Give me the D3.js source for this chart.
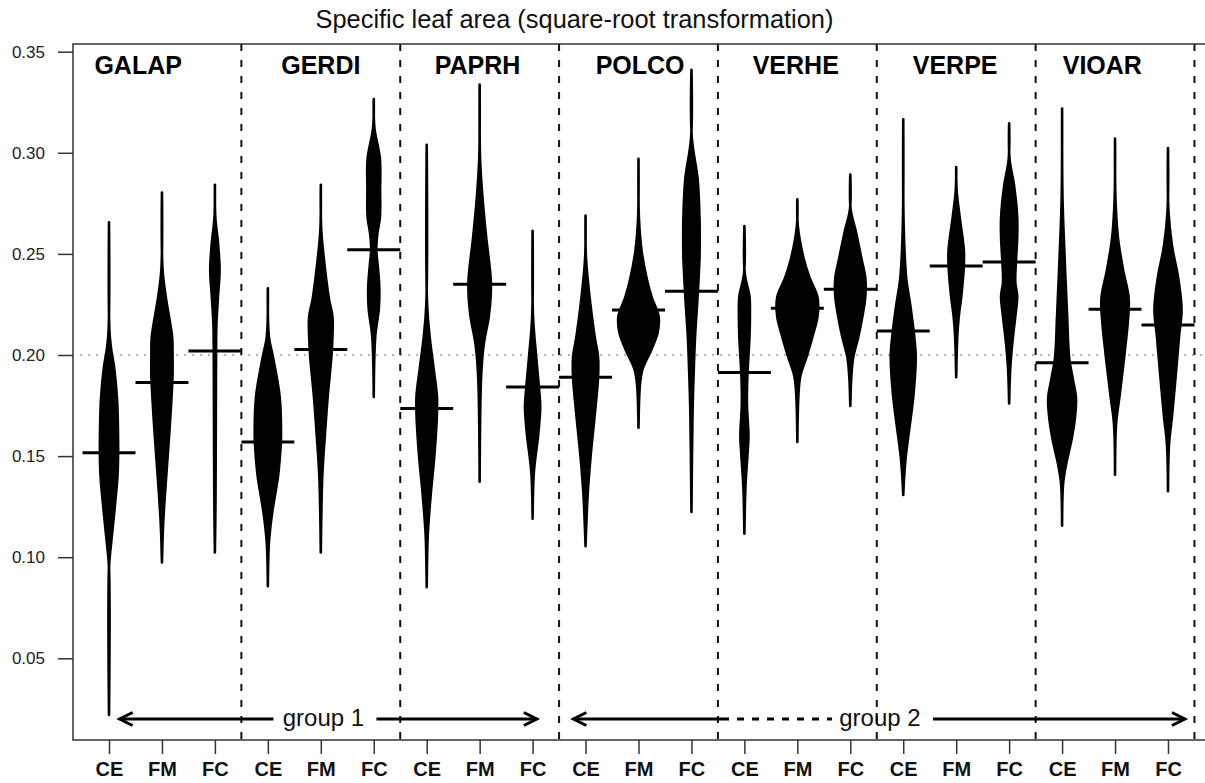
<!DOCTYPE html>
<html>
<head>
<meta charset="utf-8">
<script src="https://cdn.jsdelivr.net/npm/d3@7/dist/d3.min.js"></script>
<style>
  body { margin: 0; background: #fff; }
  text { font-family: "Liberation Sans", Arial, sans-serif; }
</style>
</head>
<body>
<svg id="chart" width="1205" height="783"></svg>
<script>
// ---- data -------------------------------------------------------------
const species = ["GALAP", "GERDI", "PAPRH", "POLCO", "VERHE", "VERPE", "VIOAR"];
const treatments = ["CE", "FM", "FC"];
const yTicks = [0.05, 0.10, 0.15, 0.20, 0.25, 0.30, 0.35];
const overallMean = 0.20;

// bean mean per species x treatment (CE, FM, FC)
const beanMeans = [
  0.1516, 0.1864, 0.2020,   // GALAP
  0.1570, 0.2027, 0.2520,   // GERDI
  0.1736, 0.2350, 0.1842,   // PAPRH
  0.1890, 0.2223, 0.2315,   // POLCO
  0.1914, 0.2231, 0.2325,   // VERHE
  0.2119, 0.2440, 0.2460,   // VERPE
  0.1962, 0.2226, 0.2148    // VIOAR
];

// density profiles: [value, relative density], from lowest to highest observation
const beanDensities = [
  // GALAP
  [[0.022,0],[0.095,0],[0.105,0.08],[0.112,0.15],[0.128,0.30],[0.140,0.40],[0.151,0.43],[0.165,0.42],[0.178,0.38],[0.194,0.24],[0.203,0.10],[0.212,0.02],[0.2656,0]],
  [[0.0974,0],[0.115,0.05],[0.131,0.14],[0.150,0.27],[0.170,0.40],[0.190,0.50],[0.200,0.50],[0.209,0.48],[0.228,0.19],[0.242,0.03],[0.2803,0]],
  [[0.1023,0],[0.130,0.03],[0.190,0.05],[0.215,0.07],[0.228,0.14],[0.242,0.22],[0.255,0.15],[0.268,0.02],[0.2842,0]],
  // GERDI
  [[0.0857,0],[0.107,0.05],[0.121,0.19],[0.140,0.48],[0.150,0.57],[0.160,0.62],[0.180,0.55],[0.199,0.24],[0.209,0.05],[0.233,0]],
  [[0.1023,0],[0.140,0.07],[0.160,0.19],[0.180,0.33],[0.199,0.50],[0.209,0.55],[0.219,0.55],[0.228,0.38],[0.248,0.14],[0.262,0.02],[0.2842,0]],
  [[0.1792,0],[0.209,0.07],[0.223,0.24],[0.234,0.26],[0.245,0.18],[0.252,0.12],[0.260,0.17],[0.268,0.29],[0.282,0.30],[0.297,0.29],[0.3125,0.03],[0.3266,0]],
  // PAPRH
  [[0.0852,0],[0.111,0.05],[0.131,0.19],[0.150,0.36],[0.170,0.48],[0.180,0.48],[0.193,0.33],[0.209,0.14],[0.2247,0.02],[0.3039,0]],
  [[0.1373,0],[0.1895,0.07],[0.205,0.19],[0.219,0.43],[0.229,0.52],[0.238,0.52],[0.258,0.31],[0.277,0.14],[0.297,0.02],[0.3338,0]],
  [[0.119,0],[0.1406,0.05],[0.150,0.14],[0.160,0.26],[0.174,0.36],[0.180,0.33],[0.199,0.17],[0.219,0.02],[0.2614,0]],
  // POLCO
  [[0.1054,0],[0.131,0.10],[0.150,0.24],[0.170,0.43],[0.189,0.59],[0.199,0.59],[0.209,0.43],[0.2286,0.19],[0.248,0.02],[0.269,0]],
  [[0.164,0],[0.1855,0.07],[0.193,0.19],[0.203,0.62],[0.211,0.90],[0.219,0.95],[0.2286,0.62],[0.238,0.38],[0.252,0.14],[0.2677,0.02],[0.297,0]],
  [[0.1224,0],[0.170,0.05],[0.1895,0.10],[0.209,0.17],[0.229,0.29],[0.248,0.38],[0.258,0.39],[0.268,0.38],[0.2872,0.29],[0.307,0.02],[0.341,0]],
  // VERHE
  [[0.1116,0],[0.135,0.05],[0.150,0.14],[0.160,0.19],[0.1758,0.12],[0.1895,0.14],[0.209,0.24],[0.219,0.26],[0.229,0.24],[0.240,0.02],[0.2638,0]],
  [[0.157,0],[0.180,0.05],[0.1895,0.14],[0.199,0.43],[0.209,0.71],[0.219,0.95],[0.2286,0.95],[0.2384,0.57],[0.248,0.29],[0.264,0.02],[0.277,0]],
  [[0.1748,0],[0.1895,0.05],[0.199,0.14],[0.209,0.38],[0.219,0.57],[0.229,0.71],[0.238,0.71],[0.248,0.52],[0.262,0.24],[0.2716,0.02],[0.2892,0]],
  // VERPE
  [[0.1308,0],[0.141,0.05],[0.150,0.12],[0.160,0.24],[0.180,0.48],[0.199,0.59],[0.209,0.52],[0.2247,0.33],[0.238,0.14],[0.264,0.02],[0.3166,0]],
  [[0.189,0],[0.209,0.05],[0.219,0.12],[0.229,0.24],[0.244,0.36],[0.252,0.36],[0.2677,0.17],[0.2814,0.02],[0.293,0]],
  [[0.176,0],[0.193,0.05],[0.205,0.14],[0.219,0.29],[0.229,0.38],[0.236,0.29],[0.248,0.33],[0.258,0.38],[0.268,0.38],[0.2833,0.24],[0.297,0.02],[0.3146,0]],
  // VIOAR
  [[0.1156,0],[0.1365,0.05],[0.146,0.19],[0.160,0.48],[0.174,0.65],[0.1796,0.65],[0.1874,0.52],[0.199,0.33],[0.2187,0.24],[0.248,0.12],[0.2773,0.02],[0.3219,0]],
  [[0.1408,0],[0.166,0.05],[0.1796,0.21],[0.199,0.43],[0.2187,0.62],[0.2285,0.64],[0.2421,0.38],[0.2578,0.14],[0.2773,0.02],[0.307,0]],
  [[0.1326,0],[0.156,0.05],[0.1698,0.19],[0.1893,0.36],[0.2089,0.52],[0.2226,0.64],[0.2382,0.48],[0.2539,0.19],[0.2715,0.02],[0.3024,0]]
];

// species label anchors (bean position units)
const speciesLabelPos = [1.55, 5.0, 7.96, 11.03, 13.97, 16.98, 19.76];

// group annotations along the bottom (bean position units)
const groupLabels = ["group 1", "group 2"];
const groupSpans = [[1.2, 9.08], [9.77, 21.32]];
const groupLabelPos = [5.05, 15.56];

// ---- layout -------------------------------------------------------------
const svg = d3.select("#chart");
const box = { left: 73, right: 1204, top: 44, bottom: 740 };

const nBeans = species.length * treatments.length;
const x = d3.scaleLinear().domain([0.32, nBeans + 0.68]).range([box.left, box.right]);
const y = d3.scaleLinear().domain([0.0096, 0.3538]).range([box.bottom, box.top]);
const step = x(2) - x(1);
const halfWidth = d3.scaleLinear().domain([0, 1]).range([0, 0.4 * step]);

// dotted overall mean
svg.append("line")
  .attr("x1", 80).attr("x2", box.right)
  .attr("y1", y(overallMean)).attr("y2", y(overallMean))
  .attr("stroke", "#9a9a9a").attr("stroke-width", 1.6)
  .attr("stroke-dasharray", "2,6");

// species separators
const seps = d3.range(1, species.length + 1).map(i => i * 3 + 0.5);
svg.selectAll("line.sep").data(seps).join("line")
  .attr("class", "sep")
  .attr("x1", d => x(d)).attr("x2", d => x(d))
  .attr("y1", box.top).attr("y2", box.bottom)
  .attr("stroke", "#111").attr("stroke-width", 2)
  .attr("stroke-dasharray", "7,9");

// beans
const area = d3.area()
  .curve(d3.curveCatmullRom.alpha(0.5))
  .y(d => y(d[0]));

const beans = svg.append("g");
beanDensities.forEach((prof, i) => {
  const cx = x(i + 1);
  beans.append("path")
    .datum(prof)
    .attr("d", area.x0(d => cx - halfWidth(d[1])).x1(d => cx + halfWidth(d[1])))
    .attr("fill", "#000").attr("stroke", "#000")
    .attr("stroke-width", 2.6).attr("stroke-linejoin", "round");
});

// bean means
svg.selectAll("line.mean").data(beanMeans).join("line")
  .attr("class", "mean")
  .attr("x1", (d, i) => x(i + 1 - 0.5)).attr("x2", (d, i) => x(i + 1 + 0.5))
  .attr("y1", d => y(d)).attr("y2", d => y(d))
  .attr("stroke", "#000").attr("stroke-width", 3);

// plot frame
svg.append("path")
  .attr("d", `M${box.right + 3},${box.top}H${box.left}V${box.bottom}H${box.right + 3}`)
  .attr("fill", "none").attr("stroke", "#333").attr("stroke-width", 1.5);

// y axis
const yAxis = svg.append("g")
  .attr("transform", `translate(${box.left},0)`)
  .call(d3.axisLeft(y).tickValues(yTicks).tickFormat(d3.format(".2f"))
        .tickSize(15).tickPadding(13));
yAxis.select(".domain").remove();
yAxis.selectAll("line").attr("stroke", "#333").attr("stroke-width", 1.5);
yAxis.selectAll("text").attr("font-size", 17).attr("fill", "#222")
  .style("font-family", "'Liberation Sans', Arial, sans-serif");

// x axis
const xAxis = svg.append("g")
  .attr("transform", `translate(0,${box.bottom})`)
  .call(d3.axisBottom(x).tickValues(d3.range(1, nBeans + 1))
        .tickFormat(i => treatments[(i - 1) % 3]).tickSize(14).tickPadding(8));
xAxis.select(".domain").remove();
xAxis.selectAll("line").attr("stroke", "#333").attr("stroke-width", 1.5);
xAxis.selectAll("text").attr("font-size", 20).attr("font-weight", "bold").attr("fill", "#111")
  .style("font-family", "'Liberation Sans', Arial, sans-serif");

// species labels
svg.selectAll("text.sp").data(species).join("text")
  .attr("class", "sp")
  .attr("x", (d, i) => x(speciesLabelPos[i])).attr("y", 74)
  .attr("text-anchor", "middle")
  .attr("font-size", 25).attr("font-weight", "bold").attr("fill", "#000")
  .text(d => d);

// title
svg.append("text")
  .attr("x", 574.5).attr("y", 28)
  .attr("text-anchor", "middle")
  .attr("font-size", 25.4).attr("fill", "#111")
  .text("Specific leaf area (square-root transformation)");

// group arrows
const gy = 719;
function arrowHead(xTip, dir) {
  const len = 13, half = 6.5;
  return `M${xTip - dir * len},${gy - half}L${xTip},${gy}L${xTip - dir * len},${gy + half}`;
}
const gAnn = svg.append("g").attr("stroke", "#000").attr("stroke-width", 3).attr("fill", "none");
groupLabels.forEach((lab, k) => {
  const [a, b] = groupSpans[k];
  const tx = x(groupLabelPos[k]);
  const gap = 50;
  const xa = x(a), xb = x(b);
  if (k === 0) {
    gAnn.append("line").attr("x1", xa).attr("x2", tx - gap).attr("y1", gy).attr("y2", gy);
  } else {
    // solid run, then dashed run up to the label
    const mid = x(12.71);
    gAnn.append("line").attr("x1", xa).attr("x2", mid).attr("y1", gy).attr("y2", gy);
    gAnn.append("line").attr("x1", mid + 8).attr("x2", tx - gap + 2).attr("y1", gy).attr("y2", gy)
      .attr("stroke-dasharray", "7,8");
  }
  gAnn.append("line").attr("x1", tx + gap + 3).attr("x2", xb).attr("y1", gy).attr("y2", gy);
  gAnn.append("path").attr("d", arrowHead(xa, -1));
  gAnn.append("path").attr("d", arrowHead(xb, 1));
  svg.append("text")
    .attr("x", tx).attr("y", gy + 7)
    .attr("text-anchor", "middle")
    .attr("font-size", 24).attr("fill", "#111")
    .text(lab);
});
</script>
</body>
</html>
